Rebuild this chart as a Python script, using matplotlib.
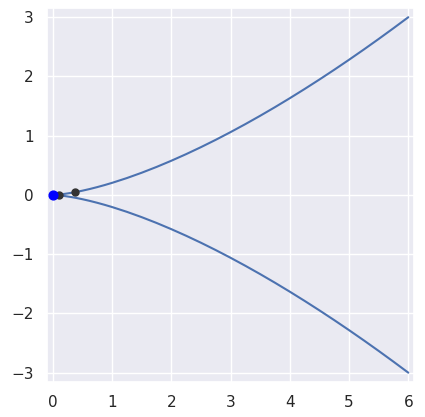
import matplotlib
matplotlib.use("Agg")
import matplotlib.pyplot as plt
import seaborn as sns

sns.set_theme()

# curve samples (upper branch; lower branch is its mirror)
curve_x = [0.0, 0.05, 0.1, 0.2, 0.3, 0.4, 0.5, 0.625, 0.75, 0.875, 1.0,
           1.25, 1.5, 1.75, 2.0, 2.25, 2.5, 2.75, 3.0, 3.25, 3.5, 3.75,
           4.0, 4.25, 4.5, 4.75, 5.0, 5.25, 5.5, 5.75, 6.0]
curve_upper = [0.0, 0.0023, 0.0065, 0.0183, 0.0335, 0.0516, 0.0722, 0.1008,
               0.1326, 0.1671, 0.2041, 0.2852, 0.375, 0.4725, 0.5774, 0.6889,
               0.8068, 0.9308, 1.0607, 1.1959, 1.3365, 1.4822, 1.633, 1.7884,
               1.9485, 2.1131, 2.2822, 2.4554, 2.6329, 2.8145, 3.0]
curve_lower = [-v for v in curve_upper]

origin_x = [0.0]
origin_y = [0.0]
dots_x = [0.107, 0.373]
dots_y = [0.007, 0.046]

fig = plt.figure(figsize=(4.25, 4.17), dpi=100)
ax = fig.add_axes([0.11, 0.085, 0.865, 0.895])
ax.plot(curve_x, curve_upper, color="#4c72b0", lw=1.5)
ax.plot(curve_x, curve_lower, color="#4c72b0", lw=1.5)
ax.scatter(dots_x, dots_y, color="#333333", s=25, zorder=3)
ax.scatter(origin_x, origin_y, color="blue", s=40, zorder=4)
ax.set_xlim(-0.1, 6.1)
ax.set_ylim(-3.15, 3.15)
ax.set_aspect("equal")
ax.set_xticks(range(0, 7))
ax.set_yticks(range(-3, 4))
ax.set_yticklabels(["\u22123", "\u22122", "\u22121", "0", "1", "2", "3"])
fig.savefig("out.png")
